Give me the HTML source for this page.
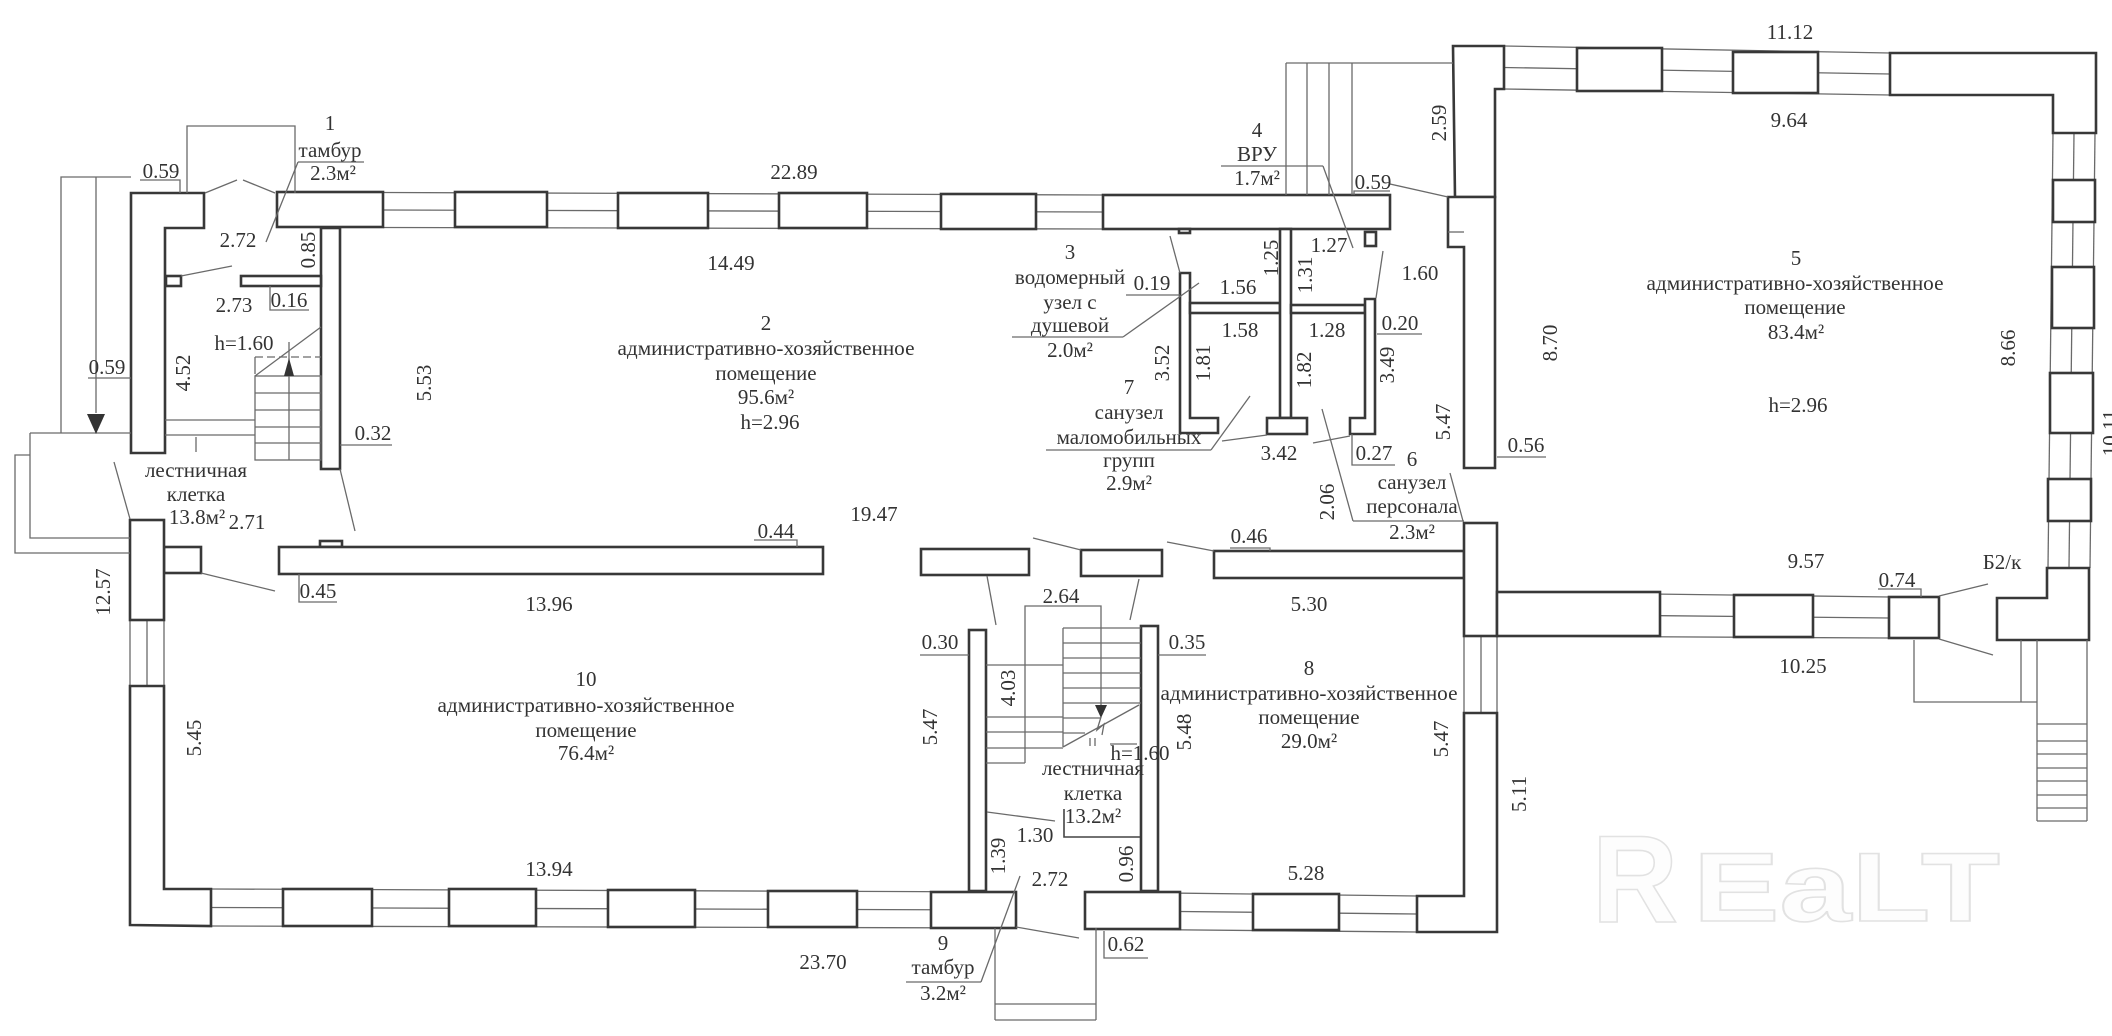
<!DOCTYPE html>
<html><head><meta charset="utf-8"><style>
html,body{margin:0;padding:0;background:#fff;}
svg{display:block;}
.w{fill:#fff;stroke:#383838;stroke-width:2.6;stroke-linejoin:miter;}
.t{fill:none;stroke:#6a6a6a;stroke-width:1.3;}
.k{fill:none;stroke:#444;stroke-width:1.6;}
text{font-family:"Liberation Serif","DejaVu Serif",serif;font-size:21px;fill:#333;text-anchor:middle;dominant-baseline:central;}
text.wm{font-family:"Liberation Sans",sans-serif;font-weight:bold;fill:#fdfdfd;stroke:#e2e2e2;stroke-width:1.6;dominant-baseline:alphabetic;text-anchor:start;}
</style></head><body>
<svg width="2112" height="1036" viewBox="0 0 2112 1036" xmlns="http://www.w3.org/2000/svg">
<rect width="2112" height="1036" fill="#fff"/>

<!-- watermark -->
<text class="wm" x="1592" y="922" style="font-size:124px" textLength="86" lengthAdjust="spacingAndGlyphs">R</text>
<text class="wm" x="1693" y="921" style="font-size:98px" textLength="307" lengthAdjust="spacingAndGlyphs">EaLT</text>

<!-- ===== thin lines: windows ===== -->
<g class="t">
<line x1="383" y1="192.5" x2="1103" y2="195"/>
<line x1="383" y1="210" x2="1103" y2="212"/>
<line x1="383" y1="227.5" x2="1103" y2="229"/>
<line x1="211" y1="889" x2="1016" y2="892"/>
<line x1="211" y1="907.5" x2="1016" y2="910"/>
<line x1="211" y1="926" x2="1016" y2="928"/>
<line x1="1085" y1="892" x2="1417" y2="896"/>
<line x1="1085" y1="910.5" x2="1417" y2="914"/>
<line x1="1085" y1="929" x2="1417" y2="932"/>
<line x1="130" y1="620" x2="130" y2="686"/>
<line x1="147" y1="620" x2="147" y2="686"/>
<line x1="164" y1="620" x2="164" y2="686"/>
<line x1="1464" y1="636" x2="1464" y2="713"/>
<line x1="1481" y1="636" x2="1481" y2="713"/>
<line x1="1497" y1="636" x2="1497" y2="713"/>
<line x1="1504" y1="46" x2="1890" y2="53"/>
<line x1="1504" y1="67.5" x2="1890" y2="74"/>
<line x1="1504" y1="89" x2="1890" y2="95"/>
<line x1="2053" y1="133" x2="2048" y2="568"/>
<line x1="2074" y1="133" x2="2069" y2="568"/>
<line x1="2095" y1="133" x2="2090" y2="568"/>
<line x1="1497" y1="592" x2="1889" y2="597"/>
<line x1="1497" y1="614" x2="1889" y2="618"/>
<line x1="1497" y1="636" x2="1889" y2="638"/>
</g>

<!-- ===== walls ===== -->
<g class="w">
<path d="M131,193 L204,193 L204,228 L165,228 L165,453 L131,453 Z"/>
<rect x="277" y="192" width="106" height="35"/>
<rect x="455" y="192" width="92" height="35"/>
<rect x="618" y="193" width="90" height="35"/>
<rect x="779" y="193" width="88" height="35"/>
<rect x="941" y="194" width="95" height="35"/>
<rect x="1103" y="195" width="287" height="34"/>
<rect x="1179" y="229" width="11" height="4"/>
<rect x="1365" y="232" width="11" height="14"/>
<rect x="321" y="228" width="19" height="241"/>
<rect x="166" y="276" width="15" height="10"/>
<rect x="241" y="276" width="80" height="10"/>
<rect x="164" y="547" width="37" height="26"/>
<rect x="320" y="541" width="22" height="6"/>
<rect x="279" y="547" width="544" height="27"/>
<rect x="921" y="549" width="108" height="26"/>
<rect x="1081" y="550" width="81" height="26"/>
<rect x="1214" y="551" width="250" height="27"/>
<rect x="130" y="520" width="34" height="100"/>
<path d="M130,686 L164,686 L164,889 L211,889 L211,926 L130,925 Z"/>
<rect x="283" y="889" width="89" height="37"/>
<rect x="449" y="889" width="87" height="37"/>
<rect x="608" y="890" width="87" height="37"/>
<rect x="768" y="891" width="89" height="36"/>
<rect x="931" y="892" width="85" height="36"/>
<rect x="1085" y="892" width="95" height="37"/>
<rect x="1253" y="894" width="86" height="36"/>
<rect x="969" y="630" width="17" height="261"/>
<rect x="1141" y="626" width="17" height="265"/>
<path d="M1464,713 L1497,713 L1497,932 L1417,932 L1417,896 L1464,896 Z"/>
<rect x="1464" y="523" width="33" height="113"/>
<path d="M1453,46 L1504,46 L1504,89 L1495,89 L1495,197 L1455,197 Z"/>
<path d="M1448,197 L1495,197 L1495,468 L1464,468 L1464,247 L1448,247 Z"/>
<rect x="1577" y="48" width="85" height="43"/>
<rect x="1733" y="52" width="85" height="41"/>
<path d="M1890,53 L2096,53 L2096,133 L2053,133 L2053,95 L1890,95 Z"/>
<rect x="2053" y="180" width="42" height="42"/>
<rect x="2052" y="267" width="42" height="61"/>
<rect x="2050" y="373" width="43" height="60"/>
<rect x="2048" y="479" width="43" height="42"/>
<path d="M2047,568 L2089,568 L2089,640 L1997,640 L1997,598 L2047,598 Z"/>
<rect x="1497" y="592" width="163" height="44"/>
<rect x="1734" y="595" width="79" height="42"/>
<rect x="1889" y="597" width="50" height="41"/>
<path d="M1180,273 L1190,273 L1190,418 L1218,418 L1218,433 L1180,433 Z"/>
<rect x="1190" y="303" width="90" height="10"/>
<rect x="1280" y="229" width="11" height="189"/>
<rect x="1267" y="418" width="40" height="16"/>
<rect x="1291" y="305" width="74" height="8"/>
<path d="M1365,299 L1375,299 L1375,434 L1350,434 L1350,418 L1365,418 Z"/>
</g>

<!-- ===== thin lines: details ===== -->
<g class="t">
<polyline points="187,193 187,126 295,126 295,193"/>
<line x1="205" y1="193" x2="237" y2="180"/>
<line x1="243" y1="180" x2="275" y2="193"/>
<polyline points="140,180 180,180 180,193"/>
<line x1="298" y1="162" x2="364" y2="162"/>
<line x1="298" y1="162" x2="266" y2="242"/>
<polyline points="131,177 61,177 61,433"/>
<line x1="30" y1="433" x2="131" y2="433"/>
<polyline points="30,433 30,538 130,538"/>
<polyline points="30,455 15,455 15,553 130,553"/>
<line x1="96" y1="177" x2="96" y2="413"/>
<line x1="88" y1="378" x2="131" y2="378"/>
<line x1="181" y1="276" x2="232" y2="266"/>
<polyline points="270,286 270,310 309,310"/>
<rect x="255" y="376" width="66" height="84"/>
<line x1="255" y1="393" x2="321" y2="393"/>
<line x1="255" y1="410" x2="321" y2="410"/>
<line x1="255" y1="427" x2="321" y2="427"/>
<line x1="255" y1="443" x2="321" y2="443"/>
<line x1="289" y1="342" x2="289" y2="460"/>
<line x1="255" y1="376" x2="321" y2="327"/>
<line x1="255" y1="357" x2="321" y2="357" stroke-dasharray="8,4"/>
<line x1="255" y1="357" x2="255" y2="374"/>
<line x1="165" y1="420" x2="255" y2="420"/>
<line x1="165" y1="435" x2="255" y2="435"/>
<line x1="196" y1="437" x2="196" y2="452"/>
<line x1="114" y1="462" x2="130" y2="519"/>
<line x1="340" y1="469" x2="355" y2="531"/>
<line x1="340" y1="445" x2="392" y2="445"/>
<line x1="201" y1="573" x2="275" y2="591"/>
<polyline points="299,574 299,602 337,602"/>
<polyline points="754,540 797,540 797,547"/>
<line x1="1033" y1="538" x2="1081" y2="550"/>
<line x1="1167" y1="542" x2="1214" y2="551"/>
<line x1="987" y1="576" x2="996" y2="625"/>
<line x1="1139" y1="579" x2="1130" y2="620"/>
<polyline points="1230,548 1270,548 1270,551"/>
<polyline points="1025,763 1025,606 1101,606 1101,705"/>
<line x1="920" y1="655" x2="969" y2="655"/>
<line x1="1158" y1="655" x2="1206" y2="655"/>
<line x1="1063" y1="628" x2="1063" y2="747"/>
<line x1="1063" y1="628" x2="1141" y2="628"/>
<line x1="1063" y1="643" x2="1141" y2="643"/>
<line x1="1063" y1="658" x2="1141" y2="658"/>
<line x1="1063" y1="673" x2="1141" y2="673"/>
<line x1="1063" y1="688" x2="1141" y2="688"/>
<line x1="1063" y1="703" x2="1141" y2="703"/>
<line x1="1063" y1="718" x2="1100" y2="718"/>
<line x1="1063" y1="733" x2="1085" y2="733"/>
<line x1="986" y1="665" x2="1063" y2="665"/>
<line x1="986" y1="717" x2="1063" y2="717"/>
<line x1="986" y1="732" x2="1063" y2="732"/>
<line x1="986" y1="748" x2="1063" y2="748"/>
<line x1="986" y1="763" x2="1025" y2="763"/>
<line x1="1063" y1="747" x2="1139" y2="705"/>
<polyline points="1101,717 1097,730 1104,724 1102,735"/>
<line x1="1090" y1="738" x2="1090" y2="746"/>
<line x1="1095" y1="738" x2="1095" y2="746"/>
<line x1="1110" y1="744" x2="1137" y2="744"/>
<line x1="987" y1="812" x2="1055" y2="821"/>
<line x1="1016" y1="927" x2="1079" y2="938"/>
<line x1="1020" y1="876" x2="981" y2="982"/>
<line x1="906" y1="982" x2="981" y2="982"/>
<polyline points="1104,931 1104,958 1148,958"/>
<line x1="995" y1="928" x2="995" y2="1020"/>
<line x1="1096" y1="928" x2="1096" y2="1020"/>
<line x1="995" y1="1004" x2="1096" y2="1004"/>
<line x1="995" y1="1020" x2="1096" y2="1020"/>
<line x1="1286" y1="63" x2="1286" y2="195"/>
<line x1="1307" y1="63" x2="1307" y2="195"/>
<line x1="1329" y1="63" x2="1329" y2="195"/>
<line x1="1352" y1="63" x2="1352" y2="195"/>
<line x1="1286" y1="63" x2="1453" y2="63"/>
<line x1="1221" y1="166" x2="1323" y2="166"/>
<line x1="1323" y1="166" x2="1353" y2="248"/>
<polyline points="1354,195 1354,191 1390,191"/>
<line x1="1390" y1="184" x2="1448" y2="197"/>
<line x1="1383" y1="251" x2="1376" y2="298"/>
<line x1="1170" y1="236" x2="1180" y2="273"/>
<line x1="1126" y1="295" x2="1180" y2="295"/>
<line x1="1012" y1="337" x2="1123" y2="337"/>
<line x1="1123" y1="337" x2="1199" y2="283"/>
<line x1="1046" y1="450" x2="1211" y2="450"/>
<line x1="1211" y1="450" x2="1250" y2="396"/>
<line x1="1222" y1="441" x2="1267" y2="435"/>
<line x1="1313" y1="443" x2="1350" y2="436"/>
<polyline points="1352,434 1352,465 1395,465"/>
<line x1="1322" y1="409" x2="1353" y2="521"/>
<line x1="1353" y1="521" x2="1464" y2="521"/>
<line x1="1450" y1="473" x2="1463" y2="521"/>
<line x1="1377" y1="334" x2="1422" y2="334"/>
<line x1="1448" y1="232" x2="1464" y2="232"/>
<line x1="1497" y1="457" x2="1546" y2="457"/>
<polyline points="1878,589 1921,589 1921,597"/>
<line x1="1939" y1="596" x2="1988" y2="584"/>
<line x1="1939" y1="639" x2="1993" y2="655"/>
<polyline points="1914,640 1914,702 2037,702"/>
<line x1="2021" y1="640" x2="2021" y2="702"/>
<line x1="2037" y1="640" x2="2037" y2="821"/>
<line x1="2087" y1="640" x2="2087" y2="821"/>
<line x1="2037" y1="724" x2="2087" y2="724"/>
<line x1="2037" y1="741" x2="2087" y2="741"/>
<line x1="2037" y1="754" x2="2087" y2="754"/>
<line x1="2037" y1="768" x2="2087" y2="768"/>
<line x1="2037" y1="781" x2="2087" y2="781"/>
<line x1="2037" y1="795" x2="2087" y2="795"/>
<line x1="2037" y1="808" x2="2087" y2="808"/>
<line x1="2037" y1="821" x2="2087" y2="821"/>
</g>
<polyline class="k" points="1064,809 1064,837 1140,837"/>
<polygon points="87,414 105,414 96,434" fill="#333"/>
<polygon points="284,376 294,376 289,358" fill="#333"/>
<polygon points="1095,705 1107,705 1101,718" fill="#333"/>

<!-- ===== text ===== -->
<text x="330" y="123">1</text>
<text x="330" y="150">тамбур</text>
<text x="333" y="173">2.3м²</text>
<text x="161" y="171">0.59</text>
<text x="794" y="172">22.89</text>
<text x="238" y="240">2.72</text>
<text transform="translate(308,250) rotate(-90)">0.85</text>
<text x="731" y="263">14.49</text>
<text x="234" y="305">2.73</text>
<text x="289" y="300">0.16</text>
<text x="244" y="343">h=1.60</text>
<text x="107" y="367">0.59</text>
<text transform="translate(183,373) rotate(-90)">4.52</text>
<text transform="translate(424,383) rotate(-90)">5.53</text>
<text x="373" y="433">0.32</text>
<text x="196" y="470">лестничная</text>
<text x="196" y="494">клетка</text>
<text x="197" y="517">13.8м²</text>
<text x="247" y="522">2.71</text>

<text x="766" y="323">2</text>
<text x="766" y="348" textLength="297" lengthAdjust="spacingAndGlyphs">административно-хозяйственное</text>
<text x="766" y="373">помещение</text>
<text x="766" y="397">95.6м²</text>
<text x="770" y="422">h=2.96</text>
<text x="874" y="514">19.47</text>
<text x="776" y="531">0.44</text>
<text x="318" y="591">0.45</text>
<text x="549" y="604">13.96</text>
<text transform="translate(103,592) rotate(-90)">12.57</text>

<text x="586" y="679">10</text>
<text x="586" y="705" textLength="297" lengthAdjust="spacingAndGlyphs">административно-хозяйственное</text>
<text x="586" y="730">помещение</text>
<text x="586" y="753">76.4м²</text>
<text transform="translate(194,738) rotate(-90)">5.45</text>
<text x="549" y="869">13.94</text>
<text x="823" y="962">23.70</text>

<text x="943" y="943">9</text>
<text x="943" y="967">тамбур</text>
<text x="943" y="993">3.2м²</text>
<text x="1050" y="879">2.72</text>
<text x="1126" y="944">0.62</text>
<text transform="translate(998,856) rotate(-90)">1.39</text>
<text transform="translate(1126,864) rotate(-90)">0.96</text>
<text x="1035" y="835">1.30</text>
<text x="1093" y="816">13.2м²</text>
<text x="1093" y="793">клетка</text>
<text x="1093" y="768">лестничная</text>
<text x="1140" y="753">h=1.60</text>
<text transform="translate(930,727) rotate(-90)">5.47</text>
<text transform="translate(1008,688) rotate(-90)">4.03</text>
<text transform="translate(1184,732) rotate(-90)">5.48</text>
<text x="940" y="642">0.30</text>
<text x="1187" y="642">0.35</text>
<text x="1061" y="596">2.64</text>
<text x="1309" y="604">5.30</text>
<text x="1249" y="536">0.46</text>

<text x="1309" y="668">8</text>
<text x="1309" y="693" textLength="297" lengthAdjust="spacingAndGlyphs">административно-хозяйственное</text>
<text x="1309" y="717">помещение</text>
<text x="1309" y="741">29.0м²</text>
<text x="1306" y="873">5.28</text>
<text transform="translate(1441,739) rotate(-90)">5.47</text>
<text transform="translate(1519,794) rotate(-90)">5.11</text>

<text x="1070" y="252">3</text>
<text x="1070" y="277">водомерный</text>
<text x="1070" y="302">узел с</text>
<text x="1070" y="325">душевой</text>
<text x="1070" y="350">2.0м²</text>
<text x="1152" y="283">0.19</text>
<text x="1238" y="287">1.56</text>
<text x="1240" y="330">1.58</text>
<text x="1327" y="330">1.28</text>
<text transform="translate(1271,258) rotate(-90)">1.25</text>
<text transform="translate(1305,275) rotate(-90)">1.31</text>
<text x="1329" y="245">1.27</text>
<text transform="translate(1162,363) rotate(-90)">3.52</text>
<text transform="translate(1203,363) rotate(-90)">1.81</text>
<text transform="translate(1304,370) rotate(-90)">1.82</text>
<text transform="translate(1387,365) rotate(-90)">3.49</text>
<text x="1129" y="387">7</text>
<text x="1129" y="412">санузел</text>
<text x="1129" y="437">маломобильных</text>
<text x="1129" y="460">групп</text>
<text x="1129" y="483">2.9м²</text>
<text x="1279" y="453">3.42</text>
<text x="1374" y="453">0.27</text>
<text transform="translate(1327,502) rotate(-90)">2.06</text>
<text x="1257" y="130">4</text>
<text x="1257" y="154">ВРУ</text>
<text x="1257" y="178">1.7м²</text>
<text x="1373" y="182">0.59</text>
<text x="1420" y="273">1.60</text>
<text x="1400" y="323">0.20</text>
<text x="1412" y="459">6</text>
<text x="1412" y="482">санузел</text>
<text x="1412" y="506">персонала</text>
<text x="1412" y="532">2.3м²</text>

<text transform="translate(1439,123) rotate(-90)">2.59</text>
<text transform="translate(1550,343) rotate(-90)">8.70</text>
<text transform="translate(1443,422) rotate(-90)">5.47</text>
<text x="1526" y="445">0.56</text>
<text x="1790" y="32">11.12</text>
<text x="1789" y="120">9.64</text>
<text x="1796" y="258">5</text>
<text x="1795" y="283" textLength="297" lengthAdjust="spacingAndGlyphs">административно-хозяйственное</text>
<text x="1795" y="307">помещение</text>
<text x="1796" y="332">83.4м²</text>
<text x="1798" y="405">h=2.96</text>
<text transform="translate(2008,348) rotate(-90)">8.66</text>
<text transform="translate(2110,433) rotate(-90)">10.11</text>
<text x="1806" y="561">9.57</text>
<text x="1897" y="580">0.74</text>
<text x="2002" y="562">Б2/к</text>
<text x="1803" y="666">10.25</text>
</svg>
</body></html>
